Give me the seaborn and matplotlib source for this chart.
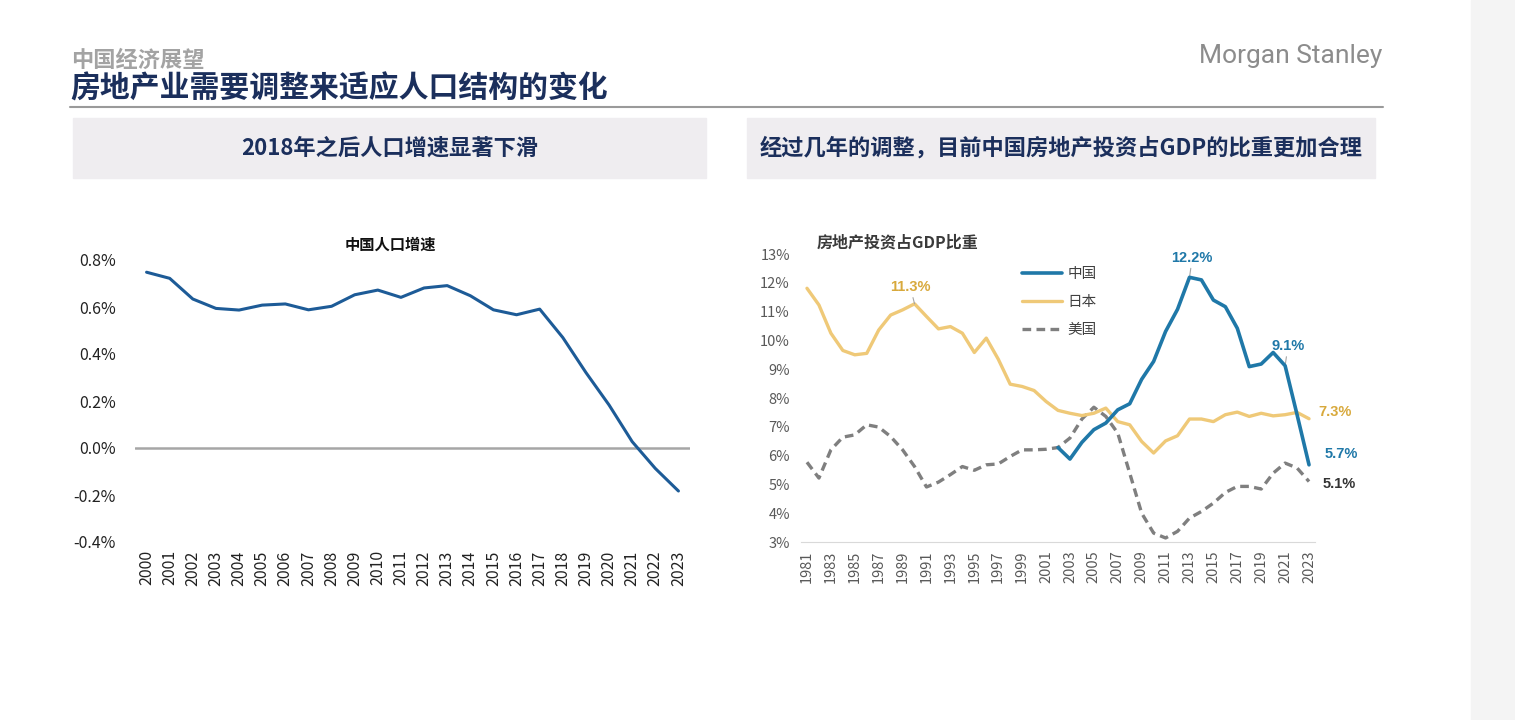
import numpy as np
import pandas as pd
import seaborn as sns
import matplotlib.pyplot as plt
from matplotlib.patches import Rectangle
from matplotlib.ticker import FuncFormatter

# Population growth (%), 2000-2023
pop_years = list(range(2000, 2024))
pop_growth = [0.748, 0.722, 0.634, 0.594, 0.587, 0.608, 0.613, 0.588, 0.603, 0.652,
              0.672, 0.641, 0.681, 0.691, 0.648, 0.588, 0.567, 0.591, 0.470, 0.321,
              0.183, 0.027, -0.087, -0.183]

# Real-estate investment share of GDP (%)
re_years = list(range(1981, 2024))
japan = [11.81, 11.23, 10.25, 9.65, 9.50, 9.55, 10.36, 10.88, 11.06, 11.27,
         10.83, 10.40, 10.48, 10.25, 9.58, 10.08, 9.35, 8.48, 8.40, 8.26,
         7.88, 7.57, 7.47, 7.39, 7.47, 7.65, 7.18, 7.07, 6.49, 6.09,
         6.51, 6.69, 7.27, 7.27, 7.18, 7.42, 7.51, 7.36, 7.47, 7.38,
         7.42, 7.50, 7.28]
usa = [5.77, 5.22, 6.20, 6.64, 6.72, 7.07, 6.99, 6.66, 6.20, 5.62,
       4.91, 5.08, 5.34, 5.62, 5.49, 5.68, 5.71, 5.97, 6.20, 6.20,
       6.22, 6.28, 6.61, 7.27, 7.68, 7.36, 6.78, 5.39, 4.00, 3.31,
       3.14, 3.37, 3.83, 4.06, 4.35, 4.72, 4.93, 4.93, 4.84, 5.39,
       5.74, 5.57, 5.10]
china_years = list(range(2002, 2024))
china = [6.28, 5.88, 6.46, 6.90, 7.13, 7.59, 7.80, 8.65, 9.27, 10.31,
         11.08, 12.19, 12.10, 11.40, 11.17, 10.42, 9.09, 9.18, 9.58, 9.12,
         7.42, 5.68]

sns.set_style('white')
plt.rcParams['font.family'] = ['Liberation Sans Narrow', 'Noto Sans CJK SC', 'DejaVu Sans']

NAVY = '#1b2f5c'
BLUE = '#1f78a8'
GOLD = '#efc978'
GOLD_TXT = '#d8a93c'
GRAY = '#7f7f7f'

fig = plt.figure(figsize=(15.15, 7.2), dpi=100)
W, H = 1515, 720

def fx(px):
    return px / W

def fy(py):
    return 1 - py / H

# right gray strip
fig.add_artist(Rectangle((fx(1471), 0), fx(44), 1, transform=fig.transFigure,
                         color='#f4f4f4', zorder=0))

# header
cjk = ['Noto Sans CJK SC', 'DejaVu Sans']
fig.text(fx(71), fy(60), '中国经济展望', fontsize=16, color='#a3a3a3',
         fontweight='bold', family=cjk, va='center')
fig.text(fx(70), fy(89), '房地产业需要调整来适应人口结构的变化', fontsize=21.5,
         color=NAVY, fontweight='bold', family=cjk, va='center')
fig.text(fx(1382), fy(56), 'Morgan Stanley', fontsize=19, color='#8c8c8c',
         family=['Roboto', 'DejaVu Sans'], ha='right', va='center')
fig.add_artist(plt.Line2D([fx(70), fx(1383)], [fy(107), fy(107)],
                          transform=fig.transFigure, color='#9a9a9a', lw=1.5))

# panel headers
for x0, x1, txt in [(73, 706, '2018年之后人口增速显著下滑'),
                    (747, 1375, '经过几年的调整，目前中国房地产投资占GDP的比重更加合理')]:
    fig.add_artist(Rectangle((fx(x0), fy(178)), fx(x1 - x0), 60 / H,
                             transform=fig.transFigure, color='#efedf0', zorder=0))
    fig.text(fx((x0 + x1) / 2), fy(148), txt, fontsize=16, color=NAVY,
             fontweight='bold', family=cjk, ha='center', va='center')

# ---- left chart: population growth
ax1 = fig.add_axes([fx(135), fy(542), fx(555), 282 / H])
pop = pd.DataFrame({'year': pop_years, 'growth': pop_growth})
sns.lineplot(data=pop, x='year', y='growth', ax=ax1, color='#1d5b97', lw=2.2)
ax1.axhline(0, color='#a6a6a6', lw=1.8, zorder=1)
ax1.set_xlim(1999.5, 2023.5)
ax1.set_ylim(-0.4, 0.8)
ax1.set_yticks(np.arange(-0.4, 0.81, 0.2))
ax1.yaxis.set_major_formatter(FuncFormatter(lambda v, p: f'{v:.1f}%'))
ax1.set_xticks(pop_years)
ax1.set_xticklabels([str(y) for y in pop_years], rotation=90)
ax1.tick_params(axis='both', length=0, labelsize=11.5, colors='#222222')
ax1.tick_params(axis='y', pad=14)
ax1.tick_params(axis='x', pad=6)
ax1.set_xlabel('')
ax1.set_ylabel('')
for s in ax1.spines.values():
    s.set_visible(False)
ax1.set_facecolor('none')
fig.text(fx(390), fy(245), '中国人口增速', fontsize=11, fontweight='bold',
         family=cjk, ha='center', va='center', color='#111111')

# ---- right chart: real estate investment / GDP
ax2 = fig.add_axes([fx(801), fy(542), fx(514), 288 / H])
df_cn = pd.DataFrame({'year': china_years, 'share': china})
df_jp = pd.DataFrame({'year': re_years, 'share': japan})
df_us = pd.DataFrame({'year': re_years, 'share': usa})
sns.lineplot(data=df_cn, x='year', y='share', ax=ax2, color=BLUE, lw=2.6,
             label='中国', zorder=4)
sns.lineplot(data=df_jp, x='year', y='share', ax=ax2, color=GOLD, lw=2.4,
             label='日本', zorder=3)
sns.lineplot(data=df_us, x='year', y='share', ax=ax2, color=GRAY, lw=2.4,
             label='美国', zorder=2)
ax2.lines[2].set_dashes((2.6, 1.6))
ax2.set_xlim(1980.5, 2023.5)
ax2.set_ylim(3, 13)
ax2.set_yticks(range(3, 14))
ax2.yaxis.set_major_formatter(FuncFormatter(lambda v, p: f'{v:.0f}%'))
ax2.set_xticks(re_years[::2])
ax2.set_xticklabels([str(y) for y in re_years[::2]], rotation=90)
ax2.tick_params(axis='both', length=0, labelsize=10.5, colors='#595959')
ax2.tick_params(axis='y', pad=8)
ax2.tick_params(axis='x', pad=6)
ax2.set_xlabel('')
ax2.set_ylabel('')
for k, s in ax2.spines.items():
    s.set_visible(k == 'bottom')
ax2.spines['bottom'].set_color('#d9d9d9')
ax2.set_facecolor('none')
leg = ax2.legend(loc='upper left', bbox_to_anchor=((1022 - 801) / 514, 0.955),
                 frameon=False, handlelength=2.75, handletextpad=0.35,
                 labelspacing=0.95, borderpad=0, borderaxespad=0,
                 prop={'family': cjk, 'size': 10.5})
for t in leg.get_texts():
    t.set_color('#404040')
ax2.text(0.03, 1.04, '房地产投资占GDP比重', transform=ax2.transAxes, fontsize=11.5,
         fontweight='bold', family=cjk, color='#3a3a3a', va='center')

bold = dict(fontweight='bold', family=['Liberation Sans', 'DejaVu Sans'], fontsize=10.5)
leader = dict(arrowstyle='-', color='#a6a6a6', lw=0.8, shrinkA=0, shrinkB=0)
i = japan.index(max(japan[5:15]))
ax2.annotate(f'{japan[i]:.1f}%', (re_years[i], japan[i]), xytext=(-3, 9),
             textcoords='offset points', ha='center', color=GOLD_TXT,
             arrowprops=leader, **bold)
i = china.index(max(china))
ax2.annotate(f'{china[i]:.1f}%', (china_years[i], china[i]), xytext=(2, 11),
             textcoords='offset points', ha='center', color=BLUE,
             arrowprops=leader, **bold)
ax2.annotate(f'{china[-3]:.1f}%', (china_years[-3], china[-3]), xytext=(2, 11),
             textcoords='offset points', ha='center', color=BLUE,
             arrowprops=leader, **bold)
ax2.annotate(f'{japan[-1]:.1f}%', (re_years[-1], japan[-1]), xytext=(7, 5),
             textcoords='offset points', ha='left', va='center', color=GOLD_TXT, **bold)
ax2.annotate(f'{china[-1]:.1f}%', (china_years[-1], china[-1]), xytext=(11, 8),
             textcoords='offset points', ha='left', va='center', color=BLUE, **bold)
ax2.annotate(f'{usa[-1]:.1f}%', (re_years[-1], usa[-1]), xytext=(10, -2),
             textcoords='offset points', ha='left', va='center', color='#333333', **bold)

fig.savefig('out.png', dpi=100)
